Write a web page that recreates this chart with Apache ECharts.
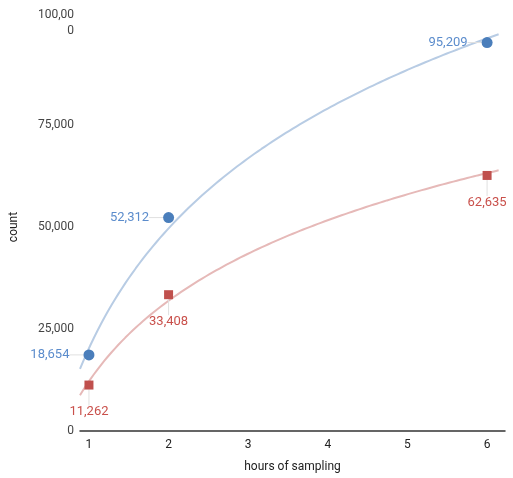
<!DOCTYPE html>
<html><head><meta charset="utf-8">
<script src="https://cdn.jsdelivr.net/npm/echarts@6/dist/echarts.min.js"></script>
<style>html,body{margin:0;padding:0;background:#fff}#c{width:513px;height:478px}</style>
</head><body><div id="c"></div>
<script>
const hours = [1, 2, 6];
const seriesA = [18654, 52312, 95209];
const seriesB = [11262, 33408, 62635];
const xTicks = [1, 2, 3, 4, 5, 6];
const yTicks = [0, 25000, 50000, 75000, 100000];
const blue = '#4a7ebb', red = '#c0504d';
const xMin = 0.8875, xMax = 6.225;

function logFit(xs, ys) {
  const lx = xs.map(Math.log);
  const n = xs.length;
  const mx = lx.reduce((a, b) => a + b, 0) / n;
  const my = ys.reduce((a, b) => a + b, 0) / n;
  let sxx = 0, sxy = 0;
  for (let i = 0; i < n; i++) { sxx += (lx[i] - mx) ** 2; sxy += (lx[i] - mx) * (ys[i] - my); }
  const b = sxy / sxx, a = my - b * mx;
  const pts = [];
  const end = xMax - 0.08;
  for (let i = 0; i <= 120; i++) { const x = xMin + (end - xMin) * i / 120; pts.push([x, a + b * Math.log(x)]); }
  return pts;
}
const fmt = v => v.toLocaleString('en-US');
const chart = echarts.init(document.getElementById('c'));
chart.setOption({
  animation: false,
  textStyle: { fontFamily: 'Roboto' },
  grid: { left: 78, right: 8, top: 23, bottom: 47 },
  xAxis: {
    type: 'value', min: xMin, max: xMax,
    name: 'hours of sampling', nameLocation: 'middle', nameGap: 30,
    nameTextStyle: { color: '#222', fontSize: 12 },
    axisLine: { lineStyle: { color: '#333', width: 1.5 } },
    axisTick: { show: false },
    splitLine: { show: false },
    axisLabel: { customValues: xTicks, color: '#222', fontSize: 12, margin: 8 }
  },
  yAxis: {
    type: 'value', min: 0, max: 100000, interval: 25000,
    name: 'count', nameLocation: 'middle', nameGap: 60, nameRotate: 90,
    nameTextStyle: { color: '#222', fontSize: 12 },
    axisLine: { show: false }, axisTick: { show: false }, splitLine: { show: false },
    axisLabel: { color: '#444', fontSize: 12, margin: 6, lineHeight: 16,
      formatter: v => v === 100000 ? '100,00\n0' : fmt(v) }
  },
  series: [
    { type: 'line', data: logFit(hours, seriesA), showSymbol: false, smooth: false,
      lineStyle: { color: '#b8cce4', width: 2 }, z: 1 },
    { type: 'line', data: logFit(hours, seriesB), showSymbol: false, smooth: false,
      lineStyle: { color: '#e6b9b8', width: 2 }, z: 1 },
    { type: 'scatter', data: hours.map((h, i) => [h, seriesA[i]]), symbol: 'circle', symbolSize: 11,
      itemStyle: { color: blue, opacity: 1 }, z: 3,
      label: { show: true, position: 'left', distance: 6, color: '#5b8ccc', fontSize: 13,
        formatter: p => fmt(p.value[1]) },
      labelLayout: { dx: -8 },
      labelLine: { show: true, lineStyle: { color: '#e0e0e0', width: 1 } } },
    { type: 'scatter', data: hours.map((h, i) => [h, seriesB[i]]), symbol: 'rect', symbolSize: 9,
      itemStyle: { color: red, opacity: 1 }, z: 3,
      label: { show: true, position: 'bottom', distance: 4, color: '#c9504b', fontSize: 13,
        formatter: p => fmt(p.value[1]) },
      labelLayout: { dy: 12 },
      labelLine: { show: true, lineStyle: { color: '#e0e0e0', width: 1 } } }
  ]
});
</script></body></html>
